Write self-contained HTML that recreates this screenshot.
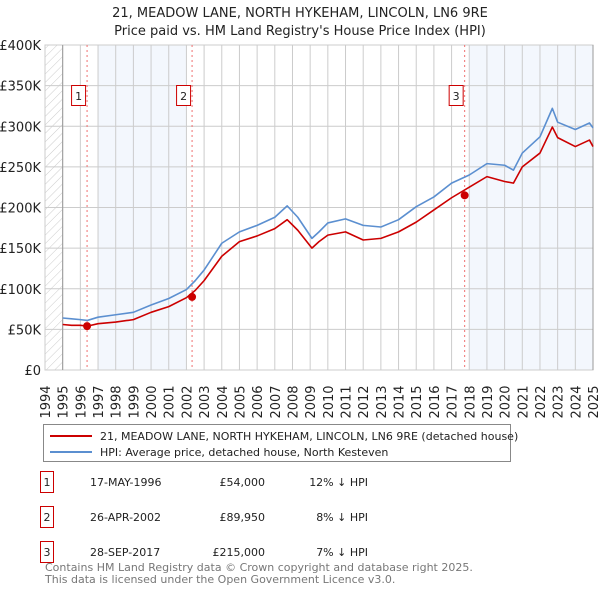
<!DOCTYPE html>
<html><head><meta charset="utf-8"><style>
body{margin:0;background:#fff;font-family:"Liberation Sans","DejaVu Sans",sans-serif;}
svg text{font-family:"DejaVu Sans","Liberation Sans",sans-serif;}
</style></head><body>
<svg id="c" width="600" height="590" viewBox="0 0 600 590" xmlns="http://www.w3.org/2000/svg">
<defs><pattern id="hatch" width="6" height="6" patternUnits="userSpaceOnUse" patternTransform="rotate(45)"><line x1="0" y1="0" x2="0" y2="6" stroke="#ccc" stroke-width="1"/></pattern></defs>
<text x="300" y="17" text-anchor="middle" font-size="13" fill="#222">21, MEADOW LANE, NORTH HYKEHAM, LINCOLN, LN6 9RE</text>
<text x="300" y="35" text-anchor="middle" font-size="13" fill="#222">Price paid vs. HM Land Registry's House Price Index (HPI)</text>
<g id="plot"></g>
<g>
<rect x="43.5" y="424.5" width="467" height="37" fill="#fff" stroke="#888"/>
<line x1="50" y1="436" x2="92" y2="436" stroke="#cc0000" stroke-width="2"/>
<text x="100" y="440" font-size="11" fill="#222">21, MEADOW LANE, NORTH HYKEHAM, LINCOLN, LN6 9RE (detached house)</text>
<line x1="50" y1="452" x2="92" y2="452" stroke="#5b8fd0" stroke-width="2"/>
<text x="100" y="456" font-size="11" fill="#222">HPI: Average price, detached house, North Kesteven</text>
</g>
<g font-size="11" fill="#222">
<rect x="40.5" y="471.5" width="13" height="21" fill="#fff" stroke="#cc0000"/><text x="47" y="486" text-anchor="middle">1</text>
<text x="90" y="486">17-MAY-1996</text><text x="265" y="486" text-anchor="end">£54,000</text><text x="368" y="486" text-anchor="end">12% ↓ HPI</text>
<rect x="40.5" y="506.5" width="13" height="21" fill="#fff" stroke="#cc0000"/><text x="47" y="521" text-anchor="middle">2</text>
<text x="90" y="521">26-APR-2002</text><text x="265" y="521" text-anchor="end">£89,950</text><text x="368" y="521" text-anchor="end">8% ↓ HPI</text>
<rect x="40.5" y="541.5" width="13" height="21" fill="#fff" stroke="#cc0000"/><text x="47" y="556" text-anchor="middle">3</text>
<text x="90" y="556">28-SEP-2017</text><text x="265" y="556" text-anchor="end">£215,000</text><text x="368" y="556" text-anchor="end">7% ↓ HPI</text>
</g>
<text x="45" y="571" font-size="11" fill="#777">Contains HM Land Registry data © Crown copyright and database right 2025.</text>
<text x="45" y="583" font-size="11" fill="#777">This data is licensed under the Open Government Licence v3.0.</text>
</svg>
<script>
const years=[1995,1995.5,1996,1996.4,1997,1998,1999,2000,2001,2002,2002.5,2003,2004,2005,2006,2007,2007.7,2008.3,2009.1,2009.5,2010,2011,2012,2013,2014,2015,2016,2017,2018,2019,2020,2020.5,2021,2022,2022.7,2023,2024,2024.8,2025];
const hpi=[64,63,62,61,65,68,71,80,88,99,110,123,156,170,178,188,202,188,162,170,181,186,178,176,185,201,213,230,240,254,252,246,267,287,322,305,296,304,298];
const paid=[56,55,55,54,57,59,62,71,78,89,98,110,140,158,165,174,185,172,150,158,166,170,160,162,170,182,197,212,225,238,232,230,250,267,299,286,275,283,275];
const yTicks=[0,50,100,150,200,250,300,350,400];
const xTicks=[1994,1995,1996,1997,1998,1999,2000,2001,2002,2003,2004,2005,2006,2007,2008,2009,2010,2011,2012,2013,2014,2015,2016,2017,2018,2019,2020,2021,2022,2023,2024,2025];
const saleX=[1996.38,2002.32,2017.74];
const saleY=[54,89.95,215];
const saleLabels=["1","2","3"];
const NS="http://www.w3.org/2000/svg";
const L=45,R=593,T=45,B=370;
const xs=y=>L+(y-1994)/(2025-1994)*(R-L);
const ys=v=>B-v/400*(B-T);
const g=document.getElementById('plot');
function mk(t,a,p){const e=document.createElementNS(NS,t);for(const k in a)e.setAttribute(k,a[k]);(p||g).appendChild(e);return e;}
mk('rect',{x:L,y:T,width:R-L,height:B-T,fill:'#fff',stroke:'#ccc'});
const hat=mk('rect',{x:L,y:T,width:xs(1995)-L,height:B-T,fill:'url(#hatch)'});


const b1=mk('rect',{x:xs(1997),y:T,width:xs(2002)-xs(1997),height:B-T,fill:'#eef3fc',opacity:0.7});


const b2=mk('rect',{x:xs(2018),y:T,width:R-xs(2018),height:B-T,fill:'#eef3fc',opacity:0.7});


xTicks.forEach(yr=>{
 mk('line',{x1:xs(yr),y1:T,x2:xs(yr),y2:B,stroke:'#ccc'});
 const t=mk('text',{x:0,y:0,transform:`translate(${xs(yr)+5},${B+32}) rotate(-90)`,'font-size':13,fill:'#222','text-anchor':'middle'});
 t.textContent=yr;
 
 
});
yTicks.forEach(v=>{
 mk('line',{x1:L,y1:ys(v),x2:R,y2:ys(v),stroke:'#ccc'});
 const t=mk('text',{x:L-4,y:ys(v)+5,'font-size':13,fill:'#222','text-anchor':'end'});
 t.textContent=v===0?'£0':'£'+v+'K';
 
 
});
mk('line',{x1:xs(1995),y1:T,x2:xs(1995),y2:B,stroke:'#999'});
mk('line',{x1:R,y1:T,x2:R,y2:B,stroke:'#999'});
saleX.forEach((sx,i)=>{
 const l=mk('line',{x1:xs(sx),y1:T,x2:xs(sx),y2:B,stroke:'#f07070','stroke-dasharray':'2,3'});
 
 
});
function line(vals,color,name){
 const p=mk('polyline',{points:years.map((y,i)=>xs(y)+','+ys(vals[i])).join(' '),fill:'none',stroke:color,'stroke-width':1.6,'stroke-linejoin':'round'});
 
 
}
line(hpi,'#5b8fd0','hpi-line');
line(paid,'#cc0000','price-paid-line');
saleX.forEach((sx,i)=>{
 const c=mk('circle',{cx:xs(sx),cy:ys(saleY[i]),r:4,fill:'#cc0000'});
 
 
 const bx=xs(sx)-9-7;
 const r=mk('rect',{x:bx+0.5,y:85.5,width:14,height:20,fill:'#fff',stroke:'#cc0000'});
 
 
 const t=mk('text',{x:bx+7.5,y:100,'font-size':11,fill:'#222','text-anchor':'middle'});
 t.textContent=saleLabels[i];
 
 
});
</script>
</body></html>
